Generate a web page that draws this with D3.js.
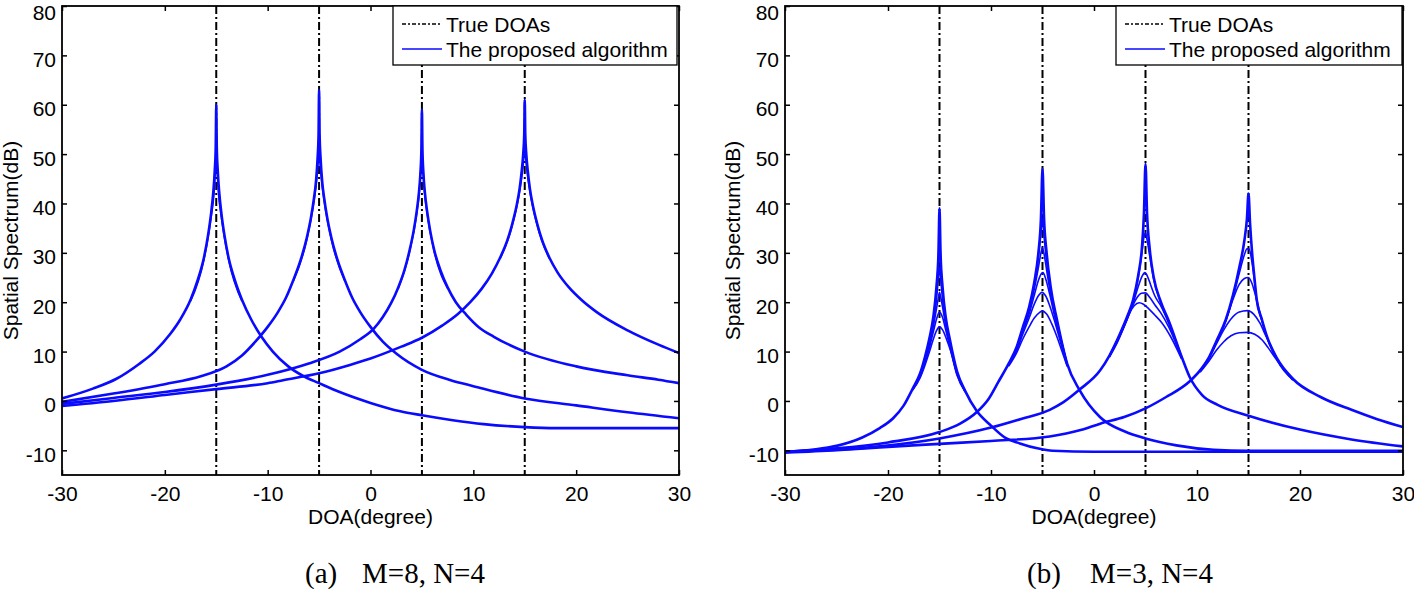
<!DOCTYPE html>
<html><head><meta charset="utf-8">
<script src="https://cdn.jsdelivr.net/npm/d3@7"></script>
<style>
body{margin:0;background:#fff}
svg{display:block}
.sans{font-family:"Liberation Sans",Arial,Helvetica,sans-serif}
.serif{font-family:"Liberation Serif","Times New Roman",serif}
</style>
</head><body>
<svg id="chart" width="1414" height="589"></svg>
<script>
// ---------- data ----------
const xTicks = [-30, -20, -10, 0, 10, 20, 30];
const yTicks = [-10, 0, 10, 20, 30, 40, 50, 60, 70, 80];
const trueDOAs = [-15, -5, 5, 15];
const legendLabels = ["True DOAs", "The proposed algorithm"];
const xLabel = "DOA(degree)";
const yLabel = "Spatial Spectrum(dB)";
const captionTags = ["(a)", "(b)"];
const captionTexts = ["M=8, N=4", "M=3, N=4"];

// panel (a): spectrum for each source, [DOA deg, dB]
const a1 = [[-30,0.5],[-27,2.5],[-24.7,4.5],[-22.5,7.5],[-21,10],[-19.5,13.5],[-18.5,16.5],[-17.5,20.5],[-16.8,24.5],[-16.2,29],[-15.8,33.5],[-15.5,38],[-15.3,42],[-15.15,46.5],[-15.05,51.5],[-15,60],[-14.95,51.5],[-14.85,46.5],[-14.7,42],[-14.5,38],[-14.2,33.5],[-13.8,29],[-13.2,24.5],[-12.5,20.5],[-11.6,16.5],[-10.6,13],[-9.5,10],[-8,7],[-6.5,5],[-5,3.6],[-3,1.8],[0,-0.4],[2.9,-2.1],[5,-2.9],[8,-3.9],[11,-4.7],[15,-5.3],[18,-5.5],[30,-5.5]];
const a2 = [[-30,-0.2],[-25,1.5],[-20,3.4],[-16.5,5],[-14,7],[-12.5,9.2],[-11.2,12],[-10,15],[-9,18],[-8.2,21],[-7.5,24.5],[-6.8,28.5],[-6.2,33],[-5.8,37],[-5.5,41],[-5.3,44.5],[-5.15,49],[-5.05,54],[-5,63],[-4.95,54],[-4.85,49],[-4.7,44.5],[-4.5,41],[-4.2,37],[-3.8,33],[-3.2,28.5],[-2.5,24.5],[-1.8,21],[-1,18],[0,15],[1.2,12],[2.5,9.6],[5,6.3],[7.8,4.2],[10,3],[15,0.5],[20,-0.9],[25,-2.3],[30,-3.5]];
const a3 = [[-30,-0.6],[-25,0.6],[-20,1.8],[-15,3.3],[-10,5.3],[-6,7.6],[-3,10],[-1,12.5],[0.3,14.6],[1.2,17],[2,19.8],[2.7,23],[3.3,26.5],[3.8,30.5],[4.2,34.5],[4.5,38.5],[4.7,42],[4.85,46],[4.95,51],[5,59],[5.05,51],[5.15,46],[5.3,42],[5.5,38.5],[5.8,34.5],[6.2,30.5],[6.8,26.5],[7.5,23],[8.3,20],[9.3,17.5],[10.5,15],[12,13],[15,10],[20,7],[25,5.2],[28,4.3],[30,3.6]];
const a4 = [[-30,-1],[-25,0],[-20,1.2],[-15,2.4],[-10,3.6],[-8.5,4.2],[-5,5.6],[-2,7.3],[0,8.6],[3,11],[5,12.8],[7,15.3],[8.5,17.6],[9.7,20],[10.8,22.7],[11.8,25.8],[12.6,29],[13.3,32.5],[13.8,36],[14.2,39.5],[14.5,43],[14.7,46.5],[14.85,50],[14.95,54],[15,61],[15.05,54],[15.15,50],[15.3,46.5],[15.5,43],[15.8,39.5],[16.2,36],[16.7,32.5],[17.4,29],[18.2,26],[19.3,23],[20.5,20.5],[22,18],[25,14.3],[28,11.4],[30,9.7]];
// panel (a): other trials near the peaks
const a1t = [[-17.5,20.2],[-16.2,28.6],[-15.5,37.2],[-15.2,42.5],[-15.07,47],[-15,48.5],[-14.93,47],[-14.8,42.5],[-14.5,37.2],[-13.8,28.6],[-12.5,20.2]];
const a2t = [[-7.5,24.3],[-6.2,32.6],[-5.5,40.4],[-5.22,45],[-5.08,48.5],[-5,50],[-4.92,48.5],[-4.78,45],[-4.5,40.4],[-3.8,32.6],[-2.5,24.3]];
const a3t = [[2.7,22.8],[3.8,30.2],[4.5,38],[4.75,42.4],[4.9,47],[5,50.5],[5.1,47],[5.25,42.4],[5.5,38],[6.2,30.2],[7.5,22.8]];
const a4t = [[12.6,28.8],[13.8,35.6],[14.5,42.4],[14.75,46],[14.9,49],[15,52],[15.1,49],[15.25,46],[15.5,42.4],[16.2,35.6],[17.4,28.8]];

// panel (b)
const b1 = [[-30,-10.3],[-27,-9.8],[-25,-9.1],[-22.5,-7.4],[-20.8,-5.5],[-19.5,-3.5],[-18.5,-1],[-17.6,2.5],[-16.9,5.5],[-16.4,9],[-16,12.5],[-15.6,17],[-15.3,23],[-15.1,30],[-15,39],[-14.9,30],[-14.7,23],[-14.4,17],[-14,12.5],[-13.3,6],[-12.5,2],[-11.4,-2],[-10,-5],[-8.6,-7.5],[-7.2,-8.6],[-5.5,-9.6],[-4,-10.1],[0,-10.3],[30,-10.3]];
const b2 = [[-30,-10.3],[-25,-9.6],[-20,-8.4],[-15,-6.3],[-13,-4.6],[-11.4,-2.3],[-10.2,0.5],[-9.3,3.8],[-8.3,7.5],[-7.5,11],[-6.9,15],[-6.3,19],[-5.8,24],[-5.4,30],[-5.15,37],[-5,47],[-4.85,37],[-4.6,30],[-4.2,23],[-3.6,16.5],[-2.6,7.5],[-1.4,2.2],[0.6,-3.3],[3,-6.2],[5,-7.6],[8,-9],[11.6,-9.9],[15,-10.1],[30,-10.1]];
const b3 = [[-30,-10.3],[-25,-9.9],[-20.8,-9.2],[-15,-7.6],[-10,-5.4],[-7,-3.6],[-4.3,-1.8],[-3,-0.3],[-1.4,2.3],[0.6,6.2],[1.5,9.2],[2.5,13.5],[3.3,17.5],[3.8,20.5],[4.3,25.5],[4.65,31],[4.85,38],[5,48],[5.15,38],[5.4,31],[5.8,25],[6.5,20],[7.3,16],[8.5,9],[9.3,4.8],[10.5,1.2],[12,-0.8],[15,-3],[20,-5.8],[25,-7.8],[30,-9.2]];
const b4 = [[-30,-10.5],[-25,-10],[-20.8,-9.4],[-15,-8.7],[-10,-8.1],[-4.3,-7.2],[-1.3,-5.9],[0.6,-4.6],[3,-3.2],[5,-1.5],[7,0.8],[9.3,4],[10.3,6.2],[11.2,9],[11.9,12.2],[12.8,16.5],[13.5,21.5],[14.1,27],[14.6,32.5],[14.85,37],[15,42],[15.15,36],[15.35,30],[15.55,25.5],[15.8,20.5],[16.3,16.5],[16.8,13],[17.8,8.5],[19.3,4.5],[22,0.8],[25,-1.8],[27.5,-3.7],[30,-5.3]];
// panel (b): other trials near the peaks
const b1t1 = [[-17.6,2.5],[-16.9,5.3],[-16.4,8.6],[-16,12],[-15.6,16.4],[-15.3,22],[-15.12,28],[-15,33],[-14.88,28],[-14.7,22],[-14.4,16.4],[-14,12],[-13.3,5.8],[-12.5,2]];
const b1t2 = [[-17.6,2.5],[-16.9,5.2],[-16.4,8.4],[-16,11.7],[-15.6,15.9],[-15.3,20.5],[-15.12,24.5],[-15,27],[-14.88,24.5],[-14.7,20.6],[-14.4,16],[-14,11.8],[-13.3,5.7],[-12.5,2]];
const b1t3 = [[-17.6,2.4],[-16.9,5],[-16.4,8.1],[-16,11.2],[-15.6,15],[-15.3,18.6],[-15.1,21],[-15,22],[-14.9,21.2],[-14.7,19],[-14.4,15.4],[-14,11.4],[-13.3,5.6],[-12.5,2]];
const b1t4 = [[-17.6,2.3],[-16.9,4.8],[-16.4,7.8],[-16,10.6],[-15.6,14],[-15.3,16.5],[-15,18],[-14.7,16.9],[-14.4,14.4],[-14,11],[-13.3,5.4],[-12.5,1.9]];
const b1t5 = [[-17.6,2.2],[-16.9,4.6],[-16.4,7.3],[-16,9.8],[-15.6,12.5],[-15.3,14.2],[-15,15],[-14.7,14.4],[-14.3,12.4],[-13.9,10],[-13.3,5.2],[-12.5,1.8]];
const b2t1 = [[-8.3,7.5],[-7.5,10.9],[-6.9,14.8],[-6.3,18.7],[-5.8,23.5],[-5.4,29],[-5.15,34],[-5.02,37],[-4.88,34],[-4.62,28.6],[-4.2,22.5],[-3.6,16.2],[-2.6,7.5]];
const b2t2 = [[-8.3,7.4],[-7.5,10.7],[-6.9,14.5],[-6.3,18.2],[-5.8,22.6],[-5.4,27],[-5.15,30],[-5.02,31],[-4.85,29.8],[-4.6,26.5],[-4.2,21.5],[-3.6,15.8],[-2.6,7.4]];
const b2t3 = [[-8.3,7.3],[-7.5,10.5],[-6.9,14.2],[-6.3,17.6],[-5.8,21.4],[-5.4,24.4],[-5.1,25.8],[-4.95,26],[-4.7,24.8],[-4.3,21.6],[-3.7,16],[-3,10.6],[-2.6,7.3]];
const b2t4 = [[-8.3,7.2],[-7.5,10.2],[-6.9,13.6],[-6.3,16.8],[-5.8,19.6],[-5.4,21.3],[-5.05,22],[-4.7,21.3],[-4.3,19.3],[-3.8,16],[-3.2,11.5],[-2.6,7.2]];
const b2t5 = [[-8.3,7],[-7.5,9.8],[-6.9,12.6],[-6.3,15],[-5.8,16.8],[-5.3,17.9],[-5,18.2],[-4.6,17.6],[-4.1,15.6],[-3.6,13],[-3.1,10],[-2.6,7]];
const b3t1 = [[1.5,9.2],[2.5,13.4],[3.3,17.3],[3.8,20.2],[4.3,25],[4.65,30],[4.88,33.5],[5,34],[5.12,33],[5.4,29.5],[5.8,24.6],[6.5,19.8],[7.3,15.8],[8.5,9]];
const b3t2 = [[1.5,9.1],[2.5,13.2],[3.3,17],[3.8,19.8],[4.3,23.2],[4.65,25.2],[4.95,26],[5.2,25.2],[5.5,23.5],[5.9,21.3],[6.5,19.2],[7.3,15.5],[8.5,8.9]];
const b3t3 = [[1.5,9],[2.5,13],[3.2,16.4],[3.7,19],[4.2,21],[4.6,21.8],[5,21.9],[5.4,21],[5.9,19.5],[6.5,17.8],[7.3,14.8],[8.5,8.7]];
const b3t4 = [[1.5,8.9],[2.3,12],[2.9,15],[3.4,17.6],[3.9,19.3],[4.4,19.9],[4.8,19.6],[5.3,18.7],[5.9,17.4],[6.6,15.8],[7.5,12.8],[8.5,8.5]];
const b4t1 = [[10.3,6.2],[11.2,9],[11.9,12.1],[12.8,16.3],[13.5,21],[14.1,25.8],[14.6,29.6],[14.85,30.8],[15.05,30.8],[15.3,28.6],[15.55,24.9],[15.8,20.2],[16.3,16.3],[16.8,12.9],[17.8,8.4],[19.3,4.5]];
const b4t2 = [[10.3,6.1],[11.2,8.9],[11.9,12],[12.8,16.2],[13.5,20.6],[14.1,23.6],[14.6,24.8],[14.95,25],[15.3,24],[15.6,22],[15.9,19.6],[16.3,16.3],[16.8,12.8],[17.8,8.3],[19.3,4.4]];
const b4t3 = [[10.3,6],[11.2,8.7],[11.9,11.6],[12.6,14.4],[13.3,16.6],[14.1,18],[14.9,18.3],[15.5,17.6],[16.1,15.8],[16.7,13.1],[17.3,10.6],[17.8,8.2],[19.3,4.3]];
const b4t4 = [[10.3,5.8],[11.2,8.2],[11.9,10.3],[12.6,12],[13.3,13.2],[14.1,13.8],[14.9,13.9],[15.6,13.5],[16.3,12.4],[16.9,10.8],[17.5,9],[18.3,6.7],[19.3,4.2]];

const panels = [
  {left:62, right:679, top:6, bottom:475, main:[a1,a2,a3,a4], trials:[a1t,a2t,a3t,a4t], legendX:393, legendW:284, ylabX:18},
  {left:785, right:1403, top:6, bottom:475, main:[b1,b2,b3,b4], trials:[b1t1,b1t2,b1t3,b1t4,b1t5,b2t1,b2t2,b2t3,b2t4,b2t5,b3t1,b3t2,b3t3,b3t4,b4t1,b4t2,b4t3,b4t4], legendX:1116, legendW:286, ylabX:740}
];

// ---------- drawing ----------
const svg = d3.select("#chart");
const BLUE = "#0a0aff";
const DASHDOT = "8,3,2,3";
const fmt = d => String(d);

panels.forEach((p, i) => {
  const x = d3.scaleLinear().domain([-30, 30]).range([p.left, p.right]);
  const y = d3.scaleLinear().domain([-15, 80]).range([p.bottom, p.top]);
  const g = svg.append("g");

  const clipId = "clip" + i;
  svg.append("clipPath").attr("id", clipId).append("rect")
    .attr("x", p.left).attr("y", p.top).attr("width", p.right - p.left).attr("height", p.bottom - p.top);

  const line = d3.line().x(d => x(d[0])).y(d => y(d[1])).curve(d3.curveMonotoneX);
  const plot = g.append("g").attr("clip-path", `url(#${clipId})`);

  plot.selectAll("line.doa").data(trueDOAs).enter().append("line")
    .attr("x1", d => x(d)).attr("x2", d => x(d))
    .attr("y1", p.top).attr("y2", p.bottom)
    .attr("stroke", "#000").attr("stroke-width", 2).attr("stroke-dasharray", DASHDOT);

  plot.selectAll("path.trial").data(p.trials).enter().append("path")
    .attr("d", line).attr("fill", "none").attr("stroke", BLUE).attr("stroke-width", 1.6);
  plot.selectAll("path.main").data(p.main).enter().append("path")
    .attr("d", line).attr("fill", "none").attr("stroke", BLUE).attr("stroke-width", 2.6)
    .attr("stroke-linejoin", "round");

  const axB = g.append("g").attr("transform", `translate(0,${p.bottom})`)
    .call(d3.axisBottom(x).tickValues(xTicks).tickSize(-5).tickPadding(11).tickFormat(fmt));
  const axT = g.append("g").attr("transform", `translate(0,${p.top})`)
    .call(d3.axisTop(x).tickValues(xTicks).tickSize(-5).tickFormat(""));
  const axL = g.append("g").attr("transform", `translate(${p.left},0)`)
    .call(d3.axisLeft(y).tickValues(yTicks).tickSize(-5).tickPadding(6).tickFormat(fmt));
  const axR = g.append("g").attr("transform", `translate(${p.right},0)`)
    .call(d3.axisRight(y).tickValues(yTicks).tickSize(-5).tickFormat(""));
  [axB, axT, axL, axR].forEach(a => {
    a.select(".domain").remove();
    a.selectAll(".tick line").attr("stroke", "#000").attr("stroke-width", 1.5);
    a.selectAll("text").attr("class", "sans").attr("font-size", 21).attr("fill", "#000");
  });
  axL.selectAll("text").attr("dy", d => d === yTicks[yTicks.length - 1] ? "0.66em" : "0.52em");

  g.append("rect").attr("x", p.left).attr("y", p.top)
    .attr("width", p.right - p.left).attr("height", p.bottom - p.top)
    .attr("fill", "none").attr("stroke", "#000").attr("stroke-width", 1.8);

  g.append("text").attr("class", "sans").attr("font-size", 21)
    .attr("x", (p.left + p.right) / 2).attr("y", 524).attr("text-anchor", "middle").text(xLabel);
  g.append("text").attr("class", "sans").attr("font-size", 21)
    .attr("transform", `translate(${p.ylabX},${(p.top + p.bottom) / 2}) rotate(-90)`)
    .attr("text-anchor", "middle").text(yLabel);

  const lg = g.append("g");
  lg.append("rect").attr("x", p.legendX).attr("y", p.top).attr("width", p.legendW).attr("height", 59)
    .attr("fill", "#fff").attr("stroke", "#000").attr("stroke-width", 1.3);
  const rows = [{dash: "4,2,2,2", color: "#000"}, {dash: null, color: BLUE}];
  rows.forEach((r, k) => {
    const cy = 24 + k * 25;
    lg.append("line").attr("x1", p.legendX + 9).attr("x2", p.legendX + 49)
      .attr("y1", cy).attr("y2", cy).attr("stroke", r.color).attr("stroke-width", 1.6)
      .attr("stroke-dasharray", r.dash);
    lg.append("text").attr("class", "sans").attr("font-size", 21)
      .attr("x", p.legendX + 53).attr("y", cy + 7.5).text(legendLabels[k]);
  });
});

const capX = [[305, 362], [1027, 1090]];
captionTags.forEach((t, i) => {
  svg.append("text").attr("class", "serif").attr("font-size", 29).attr("x", capX[i][0]).attr("y", 583).text(t);
  svg.append("text").attr("class", "serif").attr("font-size", 29).attr("x", capX[i][1]).attr("y", 583).text(captionTexts[i]);
});
</script>
</body></html>
